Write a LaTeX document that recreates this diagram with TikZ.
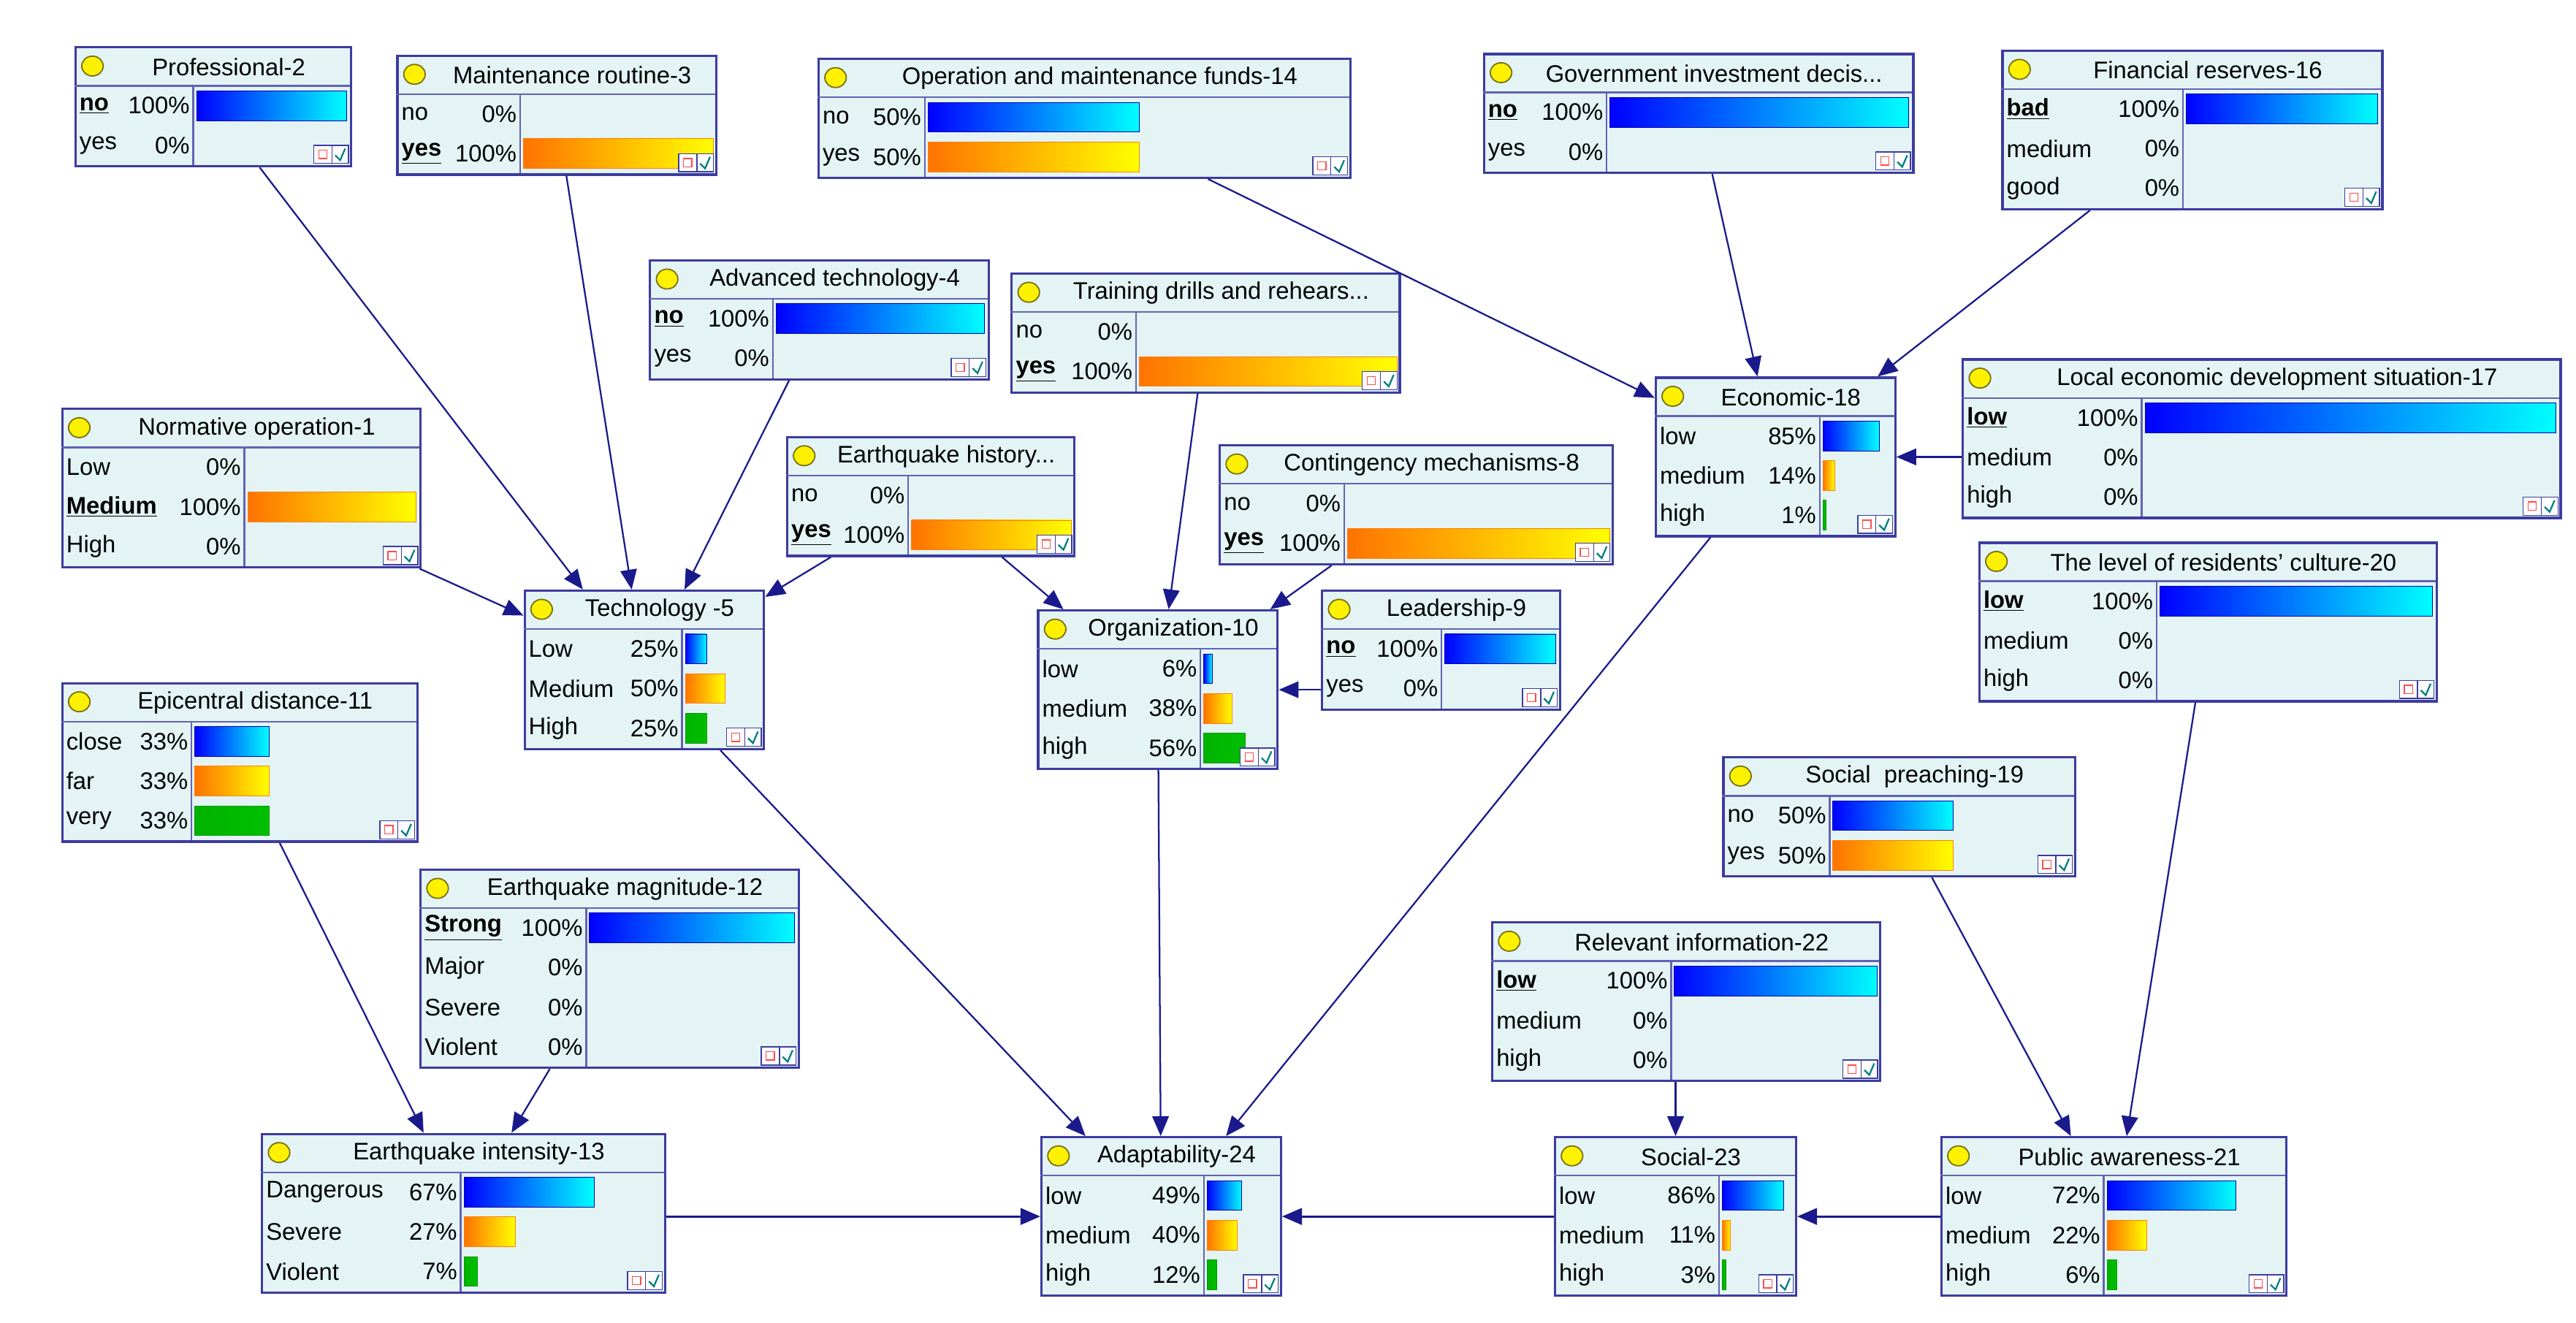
\documentclass[tikz,border=0pt]{standalone}
\usepackage{fontspec}
\setmainfont{Liberation Sans}
\usetikzlibrary{arrows.meta}
\definecolor{navy}{HTML}{1A1A8C}
\definecolor{bx}{HTML}{3C3CA0}
\definecolor{bfill}{HTML}{E4F4F4}
\tikzset{
 box/.style={draw=bx,line width=1.4pt,fill=bfill,inner sep=0pt},
 sep/.style={draw=bx!80,line width=1pt},
 barB/.style={left color=blue,right color=cyan,draw=blue!70!black,line width=0.4pt},
 barO/.style={left color=orange!90!red,right color=yellow,draw=orange,line width=0.4pt},
 barG/.style={left color=green!70!black,right color=green!75!black,draw=green!60!black,line width=0.4pt},
 edge/.style={draw=navy,line width=1pt,-{Triangle[length=12pt,width=10pt]}},
 txt/.style={inner sep=0pt,font=\fontsize{14.5}{17}\selectfont}
}
\newcommand\bs[1]{\underline{\textbf{#1}}}
\newcommand\bnode[8]{%
 \pgfmathsetmacro\hh{24+#7*24}
 \node[box,minimum width=#4,minimum height=\hh,anchor=north west] (#1) at (#2,#3) {};
 \draw[sep] (#2,#3+24) -- ++(#4,0);
 \draw[sep] (#5,#3+24) -- (#5,#3+\hh);
 \filldraw[fill=yellow,draw=olive!80!black,line width=0.8pt] (#2+11,#3+12) ellipse (6.5 and 6);
 \node[txt] at ({(#2+20+#2+#4)/2},#3+12.5) {#6};
 \foreach \s/\p/\e/\c [count=\i] in {#8}{
   \pgfmathsetmacro\yc{#3+24+(\i-0.5)*24}
   \node[txt,anchor=west] at (#2+3,\yc) {\s};
   \node[txt,anchor=east] at (#5-2,\yc) {\p};
   \ifdim\e pt>0pt \shade[bar\c] (#5+2,\yc-9) rectangle (\e,\yc+9);\fi
 }
 \draw[draw=bx,fill=white,line width=0.6pt] (#2+#4-22,#3+\hh-12) rectangle (#2+#4-11,#3+\hh-1);
 \draw[draw=red!70,line width=0.6pt] (#2+#4-19,#3+\hh-9) rectangle (#2+#4-14,#3+\hh-4);
 \draw[draw=bx,fill=white,line width=0.6pt] (#2+#4-11,#3+\hh-12) rectangle (#2+#4-1,#3+\hh-1);
 \draw[teal,line width=1pt] (#2+#4-9,#3+\hh-6) -- (#2+#4-6,#3+\hh-3) -- (#2+#4-3,#3+\hh-10);
}
\begin{document}
\begin{tikzpicture}[x=1pt,y=-1pt]
\useasboundingbox (0,0) rectangle (1560,801);
\bnode{prof}{45}{28}{167}{117}{Professional-2}{2}{\bs{no}/100\%/210/B,yes/0\%/0/B}
\bnode{maint}{240}{33}{193}{315}{Maintenance routine-3}{2}{no/0\%/0/B,\bs{yes}/100\%/432/O}
\bnode{funds}{495}{35}{322}{560}{Operation and maintenance funds-14}{2}{no/50\%/690/B,yes/50\%/690/O}
\bnode{gov}{898}{32}{260}{973}{Government investment decis...}{2}{\bs{no}/100\%/1156/B,yes/0\%/0/B}
\bnode{fin}{1212}{30}{230}{1322}{Financial reserves-16}{3}{\bs{bad}/100\%/1440/B,medium/0\%/0/B,good/0\%/0/B}
\bnode{adv}{393}{157}{205}{468}{Advanced technology-4}{2}{\bs{no}/100\%/596/B,yes/0\%/0/B}
\bnode{train}{612}{165}{235}{688}{Training drills and rehears...}{2}{no/0\%/0/B,\bs{yes}/100\%/846/O}
\bnode{norm}{37}{247}{217}{148}{Normative operation-1}{3}{Low/0\%/0/B,\bs{Medium}/100\%/252/O,High/0\%/0/B}
\bnode{hist}{476}{264}{174}{550}{Earthquake history...}{2}{no/0\%/0/B,\bs{yes}/100\%/649/O}
\bnode{cont}{738}{269}{238}{814}{Contingency mechanisms-8}{2}{no/0\%/0/B,\bs{yes}/100\%/975/O}
\bnode{econ}{1002}{228}{145}{1102}{Economic-18}{3}{low/85\%/1138/B,medium/14\%/1111/O,high/1\%/1106/G}
\bnode{local}{1188}{217}{362}{1297}{Local economic development situation-17}{3}{\bs{low}/100\%/1548/B,medium/0\%/0/B,high/0\%/0/B}
\bnode{cult}{1198}{328}{277}{1306}{The level of residents' culture-20}{3}{\bs{low}/100\%/1473/B,medium/0\%/0/B,high/0\%/0/B}
\bnode{tech}{317}{357}{145}{413}{Technology -5}{3}{Low/25\%/428/B,Medium/50\%/439/O,High/25\%/428/G}
\bnode{org}{628}{369}{145}{727}{Organization-10}{3}{low/6\%/734/B,medium/38\%/746/O,high/56\%/754/G}
\bnode{lead}{800}{357}{144}{873}{Leadership-9}{2}{\bs{no}/100\%/942/B,yes/0\%/0/B}
\bnode{epi}{37}{413}{215}{116}{Epicentral distance-11}{3}{close/33\%/163/B,far/33\%/163/O,very/33\%/163/G}
\bnode{preach}{1043}{458}{213}{1108}{Social\ \ preaching-19}{2}{no/50\%/1183/B,yes/50\%/1183/O}
\bnode{mag}{254}{526}{229}{355}{Earthquake magnitude-12}{4}{\bs{Strong}/100\%/481/B,Major/0\%/0/B,Severe/0\%/0/B,Violent/0\%/0/B}
\bnode{rel}{903}{558}{235}{1012}{Relevant information-22}{3}{\bs{low}/100\%/1137/B,medium/0\%/0/B,high/0\%/0/B}
\bnode{inten}{158}{686}{244}{279}{Earthquake intensity-13}{3}{Dangerous/67\%/360/B,Severe/27\%/312/O,Violent/7\%/289/G}
\bnode{adapt}{630}{688}{145}{729}{Adaptability-24}{3}{low/49\%/752/B,medium/40\%/749/O,high/12\%/737/G}
\bnode{soc}{941}{688}{146}{1041}{Social-23}{3}{low/86\%/1080/B,medium/11\%/1048/O,high/3\%/1045/G}
\bnode{pub}{1175}{688}{209}{1274}{Public awareness-21}{3}{low/72\%/1354/B,medium/22\%/1300/O,high/6\%/1282/G}
\draw[edge] (prof) -- (tech);
\draw[edge] (maint) -- (tech);
\draw[edge] (adv) -- (tech);
\draw[edge] (norm) -- (tech);
\draw[edge] (hist) -- (tech);
\draw[edge] (hist) -- (org);
\draw[edge] (train) -- (org);
\draw[edge] (cont) -- (org);
\draw[edge] (lead.west|-org.center) -- (org.east);
\draw[edge] (funds) -- (econ);
\draw[edge] (gov) -- (econ);
\draw[edge] (fin) -- (econ);
\draw[edge] (local.west|-econ.center) -- (econ.east);
\draw[edge] (tech) -- (adapt);
\draw[edge] (org) -- (adapt);
\draw[edge] (econ) -- (adapt);
\draw[edge] (epi) -- (inten);
\draw[edge] (mag) -- (inten);
\draw[edge,line width=1.4pt] (inten.east|-adapt.center) -- (adapt.west);
\draw[edge,line width=1.4pt] (soc.west|-adapt.center) -- (adapt.east);
\draw[edge] (rel.south-|soc.north) -- (soc.north);
\draw[edge,line width=1.4pt] (pub.west) -- (soc.east);
\draw[edge] (cult) -- (pub);
\draw[edge] (preach) -- (pub);
\end{tikzpicture}
\end{document}
